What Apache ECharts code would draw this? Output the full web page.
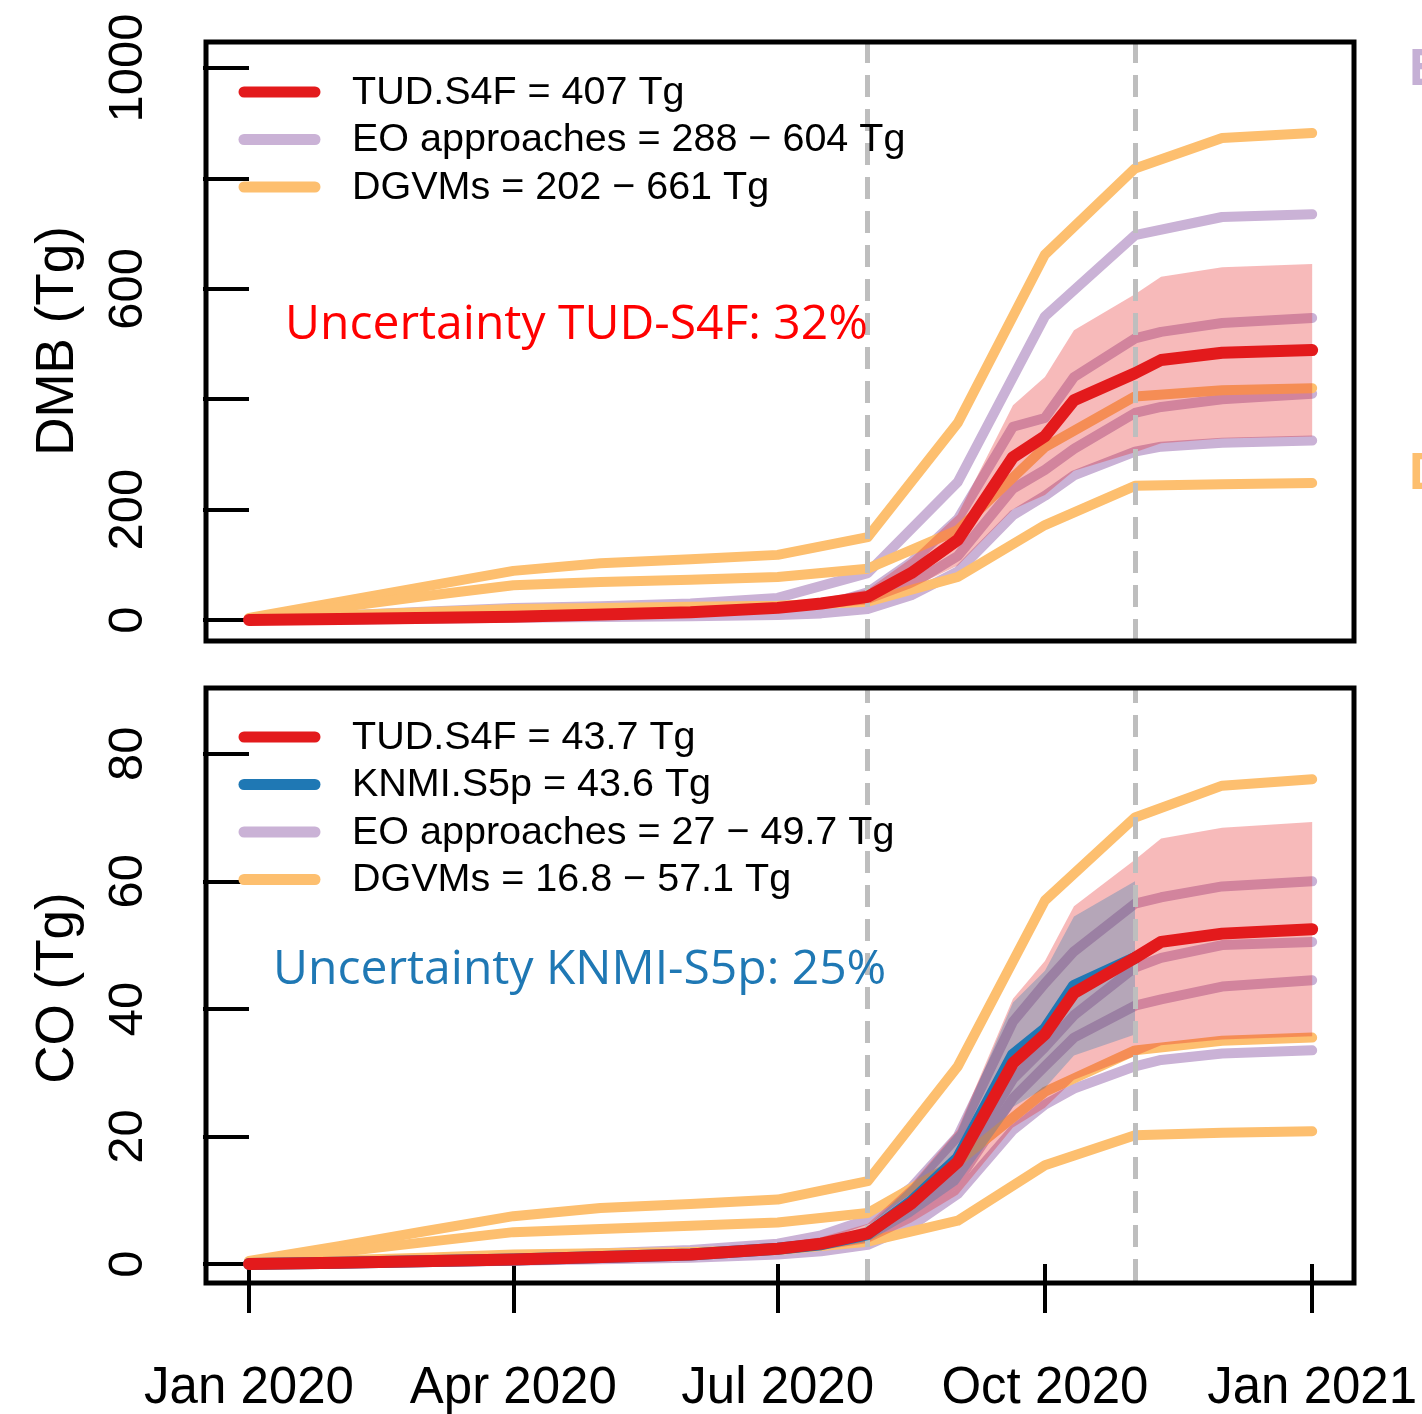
<!DOCTYPE html>
<html><head><meta charset="utf-8">
<script src="https://cdn.jsdelivr.net/npm/echarts@6/dist/echarts.min.js"></script>
<style>html,body{margin:0;padding:0;background:#fff}#c{width:1422px;height:1414px}</style>
</head><body><div id="c"></div>
<script>
// ---- dates ----
const monthDates = ['2020-01-01','2020-02-01','2020-03-01','2020-04-01','2020-05-01','2020-06-01','2020-07-01','2020-08-01','2020-09-01','2020-10-01','2020-11-01','2020-12-01','2021-01-01'];
const fineDates = ['2020-01-01','2020-02-01','2020-04-01','2020-06-01','2020-07-01','2020-07-16','2020-08-01','2020-08-16','2020-09-01','2020-09-20','2020-10-01','2020-10-11','2020-11-01','2020-11-10','2020-12-01','2021-01-01'];
const knmiDates = ['2020-01-01','2020-02-01','2020-04-01','2020-06-01','2020-07-01','2020-07-16','2020-08-01','2020-08-16','2020-09-01','2020-09-20','2020-10-01','2020-10-11','2020-11-01'];
const markDates = ['2020-08-01','2020-11-01'];
const xTickDates = ['2020-01-01','2020-04-01','2020-07-01','2020-10-01','2021-01-01'];
const xTickLabels = ['Jan 2020','Apr 2020','Jul 2020','Oct 2020','Jan 2021'];
const dmbTicks = [0,200,400,600,800,1000];
const dmbTickLabels = [0,200,600,1000];
const coTicks = [0,20,40,60,80];
const coTickLabels = [0,20,40,60,80];

// ---- DMB (Tg), top panel ----
const dmbDgvmHigh = [4,33,60,89,103,110,118,150,357,662,818,873,882];
const dmbDgvmMid  = [3,23,43,63,69,73,78,93,163,313,405,416,420];
const dmbDgvmLow  = [2,8,14,20,22,24,26,33,78,172,243,246,248];
const dmbEo1 = [1,8,15,22,25,30,40,85,250,550,697,730,735];           // monthDates
const dmbEo2 = [0,1,8,13,18,25,50,105,183,350,366,440,510,522,538,547]; // fineDates
const dmbEo3 = [0,1,6,9,12,16,30,65,116,238,272,310,375,386,400,410];
const dmbEo4 = [0,0.5,4,7,9,12,20,45,88,190,225,262,305,314,321,325];
const dmbTud = [0,2,6,14,22,30,42,85,145,295,333,398,447,471,484,489];
const dmbTudHigh = [0,2.6,7.9,18.5,29,39.6,55.4,112,191,389,440,525,590,622,639,645];
const dmbTudLow  = [0,1.4,4.1,9.5,15,20.4,28.6,57.8,98.6,200.6,226.4,270.6,304,320.3,329,332.5];

// ---- CO (Tg), bottom panel ----
const coDgvmHigh = [0.5,2.8,5.1,7.5,8.8,9.4,10.1,13,31,57,70,75,76];
const coDgvmMid  = [0.4,1.9,3.4,5,5.5,6,6.5,8,16,27,33.5,35,35.5];
const coDgvmLow  = [0.2,0.6,1.0,1.5,1.7,1.9,2.2,3.5,6.8,15.5,20.2,20.6,20.8];
const coEo1 = [0,0.3,1.2,2.2,3.2,4.5,7,12,20,38,44,49,56.5,57.5,59.2,60];
const coEo2 = [0,0.2,0.8,1.5,2.2,3,4.5,8.5,15,29,34,39,46.5,48,50,50.5];
const coEo3 = [0,0.2,0.6,1.2,1.8,2.5,4,7,13,26,31,35.5,40.5,41.5,43.5,44.5];
const coEo4 = [0,0.1,0.5,1.0,1.5,2,3,6,11,21,25,27.5,31,32,33,33.5];
const coTud = [0,0.2,0.7,1.5,2.4,3.2,4.8,9.5,16,31.5,36,42.5,48,50.5,51.8,52.5];
const coTudHigh = [0,0.26,0.92,2.0,3.2,4.2,6.3,12.5,21.1,41.6,47.5,56.1,63.4,66.7,68.4,69.3];
const coTudLow  = [0,0.14,0.48,1.0,1.6,2.2,3.3,6.5,10.9,21.4,24.5,28.9,32.6,34.3,35.2,35.7];
const coKnmi = [0,0.2,0.7,1.5,2.4,3.1,4.7,9.8,16.6,32.8,36.8,43.6,48];
const coKnmiHigh = [0,0.25,0.9,1.9,3.0,3.9,5.9,12.3,20.8,41,46,54.5,60];
const coKnmiLow  = [0,0.15,0.5,1.1,1.8,2.3,3.5,7.4,12.5,24.6,27.6,32.7,36];

// ---- legend text ----
const legendTop = ['TUD.S4F = 407 Tg','EO approaches = 288 \u2212 604 Tg','DGVMs = 202 \u2212 661 Tg'];
const legendBottom = ['TUD.S4F = 43.7 Tg','KNMI.S5p = 43.6 Tg','EO approaches = 27 \u2212 49.7 Tg','DGVMs = 16.8 \u2212 57.1 Tg'];

const C = {red:'#e31a1c', blue:'#1f78b4', purple:'#cab2d6', orange:'#fdbf6f', grey:'#bebebe'};
const SANS = "'Liberation Sans', Arial, sans-serif";
const OPEN = "'Open Sans', 'Noto Sans', sans-serif";

function day(s){ const p = s.split('-').map(Number); return (Date.UTC(p[0],p[1]-1,p[2]) - Date.UTC(2020,0,1)) / 86400000; }
function pairs(dates, vals){ return vals.map((v,i)=>[day(dates[i]), v]); }
function line(g, dates, vals, color, width, z){
  return {type:'line', xAxisIndex:g, yAxisIndex:g, data:pairs(dates, vals), symbol:'none', showSymbol:false,
    lineStyle:{color:color, width:width, cap:'round', join:'round'}, z:z, silent:true, animation:false};
}
function band(g, dates, upper, lower, color, z){
  return {type:'custom', xAxisIndex:g, yAxisIndex:g, z:z, silent:true, animation:false, data:[[0,0]],
    renderItem:function(params, api){
      const pts = [];
      for (let i=0;i<dates.length;i++) pts.push(api.coord([day(dates[i]), upper[i]]));
      for (let i=dates.length-1;i>=0;i--) pts.push(api.coord([day(dates[i]), lower[i]]));
      return {type:'polygon', shape:{points:pts}, style:{fill:color}};
    }};
}
function marks(g){
  return {type:'line', xAxisIndex:g, yAxisIndex:g, data:[[0,0]], symbol:'none', lineStyle:{opacity:0}, z:1, silent:true, animation:false,
    markLine:{symbol:['none','none'], silent:true, animation:false, label:{show:false},
      lineStyle:{color:C.grey, width:5, type:[22,12]},
      data: markDates.map(d=>({xAxis: day(d)}))}};
}

const xMin = -14.8, xMax = 380.4;
const series = [
  marks(0), marks(1),
  // top panel
  line(0, monthDates, dmbEo1, C.purple, 10, 2),
  line(0, fineDates, dmbEo2, C.purple, 10, 2),
  line(0, fineDates, dmbEo3, C.purple, 10, 2),
  line(0, fineDates, dmbEo4, C.purple, 10, 2),
  line(0, monthDates, dmbDgvmHigh, C.orange, 10, 3),
  line(0, monthDates, dmbDgvmMid, C.orange, 10, 3),
  line(0, monthDates, dmbDgvmLow, C.orange, 10, 3),
  band(0, fineDates, dmbTudHigh, dmbTudLow, 'rgba(227,26,28,0.3)', 4),
  line(0, fineDates, dmbTud, C.red, 12, 6),
  // bottom panel
  line(1, fineDates, coEo1, C.purple, 10, 2),
  line(1, fineDates, coEo2, C.purple, 10, 2),
  line(1, fineDates, coEo3, C.purple, 10, 2),
  line(1, fineDates, coEo4, C.purple, 10, 2),
  line(1, monthDates, coDgvmHigh, C.orange, 10, 3),
  line(1, monthDates, coDgvmMid, C.orange, 10, 3),
  line(1, monthDates, coDgvmLow, C.orange, 10, 3),
  band(1, fineDates, coTudHigh, coTudLow, 'rgba(227,26,28,0.3)', 4),
  band(1, knmiDates, coKnmiHigh, coKnmiLow, 'rgba(31,120,180,0.3)', 4),
  line(1, knmiDates, coKnmi, C.blue, 12, 5),
  line(1, fineDates, coTud, C.red, 12, 6)
];

function yAxis(g, min, max, ticks, labels){
  return {gridIndex:g, type:'value', min:min, max:max, axisLine:{show:false}, splitLine:{show:false},
    axisTick:{show:true, length:46, lineStyle:{color:'#000', width:4}, customValues:ticks},
    axisLabel:{customValues:labels, rotate:90, margin:53, fontSize:49, fontFamily:SANS, color:'#000',
      formatter:function(v){ return String(Math.round(v)); }}};
}

const graphic = [];
function legend(items, colors, y0){
  items.forEach((t,i)=>{
    const y = y0 + i*47.5;
    graphic.push({type:'line', shape:{x1:244, y1:y, x2:315, y2:y}, style:{stroke:colors[i], lineWidth:11, lineCap:'round'}, z:20});
    graphic.push({type:'text', x:352, y:y+1, style:{text:t, fontSize:39.5, fontFamily:SANS, fill:'#000', align:'left', verticalAlign:'middle'}, z:20});
  });
}
legend(legendTop, [C.red, C.purple, C.orange], 92);
legend(legendBottom, [C.red, C.blue, C.purple, C.orange], 737);
graphic.push({type:'rect', shape:{x:206, y:42, width:1148, height:599}, style:{fill:'none', stroke:'#000', lineWidth:5}, z:30});
graphic.push({type:'rect', shape:{x:206, y:688, width:1148, height:595}, style:{fill:'none', stroke:'#000', lineWidth:5}, z:30});
graphic.push({type:'text', x:58, y:341, rotation:Math.PI/2, style:{text:'DMB (Tg)', fontSize:53, fontFamily:SANS, fill:'#000', align:'center', verticalAlign:'middle'}, z:20});
graphic.push({type:'text', x:58, y:988, rotation:Math.PI/2, style:{text:'CO (Tg)', fontSize:53, fontFamily:SANS, fill:'#000', align:'center', verticalAlign:'middle'}, z:20});
graphic.push({type:'text', x:285, y:325, style:{text:'Uncertainty TUD-S4F: 32%', fontSize:48, fontFamily:OPEN, fill:'#ff0000', align:'left', verticalAlign:'middle'}, z:20});
graphic.push({type:'text', x:273, y:970, style:{text:'Uncertainty KNMI-S5p: 25%', fontSize:48, fontFamily:OPEN, fill:C.blue, align:'left', verticalAlign:'middle'}, z:20});
graphic.push({type:'text', x:1408, y:71, style:{text:'E', fontSize:50, fontWeight:'bold', fontFamily:OPEN, fill:'#c5b0d5', align:'left', verticalAlign:'middle'}, z:20});
graphic.push({type:'text', x:1408, y:475, style:{text:'D', fontSize:50, fontWeight:'bold', fontFamily:OPEN, fill:C.orange, align:'left', verticalAlign:'middle'}, z:20});

const xTickVals = xTickDates.map(day);
const option = {
  animation:false,
  backgroundColor:'#fff',
  grid:[{left:206, top:42, width:1148, height:599}, {left:206, top:688, width:1148, height:595}],
  xAxis:[
    {gridIndex:0, type:'value', min:xMin, max:xMax, show:false},
    {gridIndex:1, type:'value', min:xMin, max:xMax, axisLine:{show:false}, splitLine:{show:false},
      axisTick:{show:true, length:49, lineStyle:{color:'#000', width:4}, customValues:xTickVals},
      axisLabel:{customValues:xTickVals, margin:82, fontSize:51, fontFamily:SANS, color:'#000',
        formatter:function(v){ for (let i=0;i<xTickVals.length;i++) if (Math.abs(xTickVals[i]-v)<0.5) return xTickLabels[i]; return ''; }}}
  ],
  yAxis:[yAxis(0, -38, 1047, dmbTicks, dmbTickLabels), yAxis(1, -2.66, 90.31, coTicks, coTickLabels)],
  series:series,
  graphic:graphic
};
const chart = echarts.init(document.getElementById('c'), null, {renderer:'canvas'});
chart.setOption(option);
</script></body></html>
